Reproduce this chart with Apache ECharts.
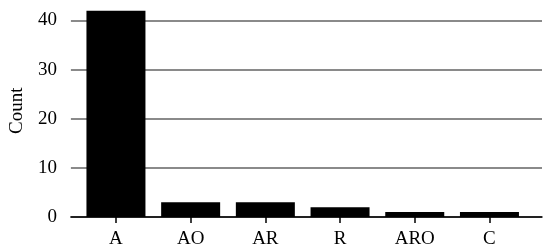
<!DOCTYPE html>
<html><head><meta charset="utf-8">
<script src="https://cdn.jsdelivr.net/npm/echarts@6/dist/echarts.min.js"></script>
<style>html,body{margin:0;padding:0;background:#fff}#c{width:550px;height:251px}</style>
</head><body><div id="c"></div>
<script>
const categories = ['A','AO','AR','R','ARO','C'];
const counts = [42,3,3,2,1,1];
const yTicks = [0,10,20,30,40];

const font = '"Liberation Serif", "Times New Roman", serif';
const chart = echarts.init(document.getElementById('c'), null, {renderer:'canvas'});
chart.setOption({
  animation:false,
  grid:[
    {left:63, right:8, top:20.5, bottom:34},
    {left:78.6, right:23.2, top:20.5, bottom:34}
  ],
  xAxis:[
    {gridIndex:0, type:'category', data:[''], axisLabel:{show:false}, axisTick:{show:false},
     axisLine:{show:true, lineStyle:{color:'#000', width:1.5}}, splitLine:{show:false}},
    {gridIndex:1, type:'category', data:categories,
     axisLine:{show:false},
     axisTick:{show:true, alignWithLabel:true, length:6, lineStyle:{color:'#000', width:1.5}},
     axisLabel:{color:'#000', fontFamily:font, fontSize:19, margin:13}}
  ],
  yAxis:[
    {gridIndex:0, type:'value', min:yTicks[0], max:yTicks[yTicks.length-1], interval:10,
     name:'Count', nameLocation:'middle', nameGap:43, nameRotate:90,
     nameTextStyle:{color:'#000', fontFamily:font, fontSize:19, padding:[0,0,0,16]},
     axisLine:{show:false}, axisTick:{show:false},
     axisLabel:{color:'#000', fontFamily:font, fontSize:19, margin:14},
     splitLine:{show:true, lineStyle:{color:'#8a8a8a', width:2}}},
    {gridIndex:1, type:'value', min:yTicks[0], max:yTicks[yTicks.length-1], interval:10, show:false, splitLine:{show:false}}
  ],
  series:[{
    type:'bar', xAxisIndex:1, yAxisIndex:1, data:counts, barWidth:59, clip:false,
    itemStyle:{color:'#000'}
  }]
});
</script></body></html>
